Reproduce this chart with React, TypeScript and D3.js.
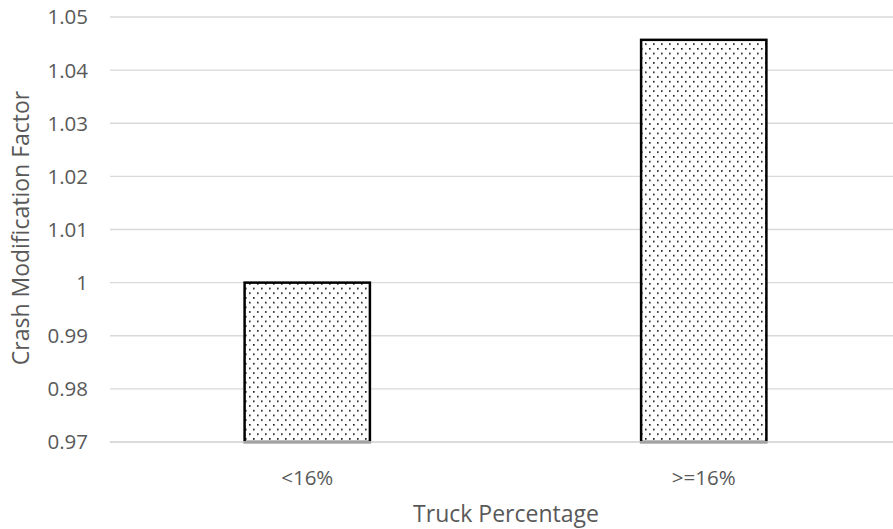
import React from "react";
import * as d3 from "d3";

const categories = ["<16%", ">=16%"];
const cmfValues = [1.0, 1.0457];
const yTicks = [0.97, 0.98, 0.99, 1.0, 1.01, 1.02, 1.03, 1.04, 1.05];

const W = 893;
const H = 529;
const FONT = "'Open Sans', 'Liberation Sans', sans-serif";
const TEXT = "#595959";

export default function App() {
  const x = d3.scaleBand<string>().domain(categories).range([109, 902]).padding(0);
  const y = d3.scaleLinear().domain([0.97, 1.05]).range([442, 17]);
  const barW = x.bandwidth() * 0.316;
  const fmt = (v: number) => (Math.abs(v - 1) < 1e-9 ? "1" : d3.format(".2f")(v));

  return (
    <svg
      width={W}
      height={H}
      style={{ position: "absolute", left: 0, top: 0, background: "#fff" }}
    >
      <defs>
        <pattern id="dots" width="8" height="9.4" patternUnits="userSpaceOnUse">
          <rect width="8" height="9.4" fill="#fff" />
          <rect x="1" y="1" width="1.6" height="1.6" fill="#111" />
          <rect x="5" y="5.7" width="1.6" height="1.6" fill="#111" />
        </pattern>
      </defs>
      {yTicks.map((t) => (
        <g key={t}>
          <line x1={110} x2={W} y1={y(t)} y2={y(t)} stroke="#d9d9d9" strokeWidth={1.3} />
          <text
            x={88}
            y={y(t)}
            dy="0.36em"
            textAnchor="end"
            fontFamily={FONT}
            fontSize={20.5}
            fill={TEXT}
          >
            {fmt(t)}
          </text>
        </g>
      ))}
      {categories.map((c, i) => {
        const cx = (x(c) as number) + x.bandwidth() / 2;
        return (
          <g key={c}>
            <rect
              x={cx - barW / 2}
              y={y(cmfValues[i])}
              width={barW}
              height={y(0.97) - y(cmfValues[i])}
              fill="url(#dots)"
              stroke="#000"
              strokeWidth={2.5}
            />
            <text
              x={cx}
              y={478}
              dy="0.36em"
              textAnchor="middle"
              fontFamily={FONT}
              fontSize={20.5}
              fill={TEXT}
            >
              {c}
            </text>
          </g>
        );
      })}
      <line x1={110} x2={W} y1={y(0.97)} y2={y(0.97)} stroke="#d9d9d9" strokeWidth={1.3} />
      <text
        x={506}
        y={514}
        dy="0.36em"
        textAnchor="middle"
        fontFamily={FONT}
        fontSize={23}
        fill={TEXT}
      >
        Truck Percentage
      </text>
      <text
        transform={`translate(21,228) rotate(-90)`}
        dy="0.36em"
        textAnchor="middle"
        fontFamily={FONT}
        fontSize={23}
        fill={TEXT}
      >
        Crash Modification Factor
      </text>
    </svg>
  );
}
